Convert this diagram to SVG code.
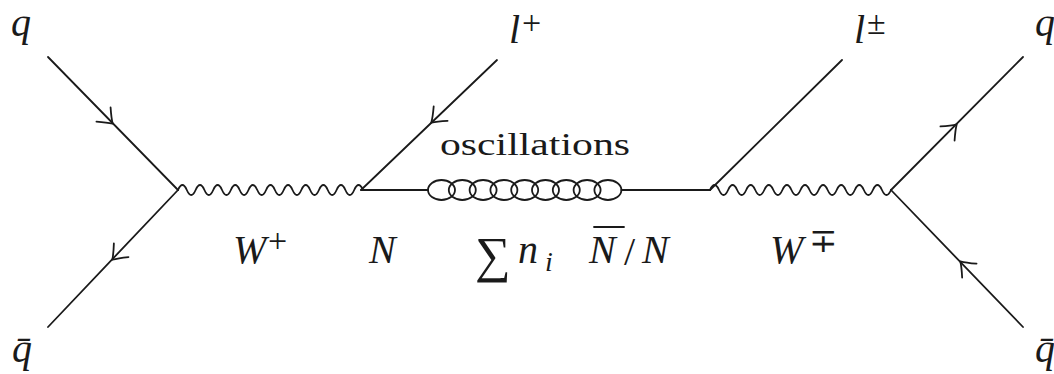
<svg xmlns="http://www.w3.org/2000/svg" xmlns:xlink="http://www.w3.org/1999/xlink" width="1054" height="374" viewBox="0 0 1054 374">
<style>
.ln{fill:none;stroke:#1a1a1a;stroke-width:1.8;stroke-linecap:round;stroke-linejoin:round}
text{font-family:'Liberation Serif','DejaVu Serif',serif;fill:#1a1a1a}
.mi{font-style:italic;font-size:40px}
.rm{font-size:40px}
.sup{font-size:34px}
.sub{font-size:28px;font-style:italic}
.big{font-size:50px}
.txt{font-size:31px}
</style>
<defs>
<path id="arr" class="ln" d="M-12,-10 Q-4,-3 1,0 Q-4,3 -12,10"/>
</defs>
<g id="connectors">
<line class="ln" x1="48" y1="57" x2="178" y2="190"/>
<line class="ln" x1="178" y1="190" x2="48" y2="327"/>
<path class="ln" d="M178,190 q4.4,-10 8.81,0 t8.81,0 t8.81,0 t8.81,0 t8.81,0 t8.81,0 t8.81,0 t8.81,0 t8.81,0 t8.81,0 t8.81,0 t8.81,0 t8.81,0 t8.81,0 t8.81,0 t8.81,0 t8.81,0 t8.81,0 t8.81,0 t8.81,0 t8.81,0"/>
<line class="ln" x1="361" y1="190" x2="497" y2="60"/>
<line class="ln" x1="361" y1="190" x2="428" y2="190"/>
<g class="ln">
<ellipse cx="441.5" cy="190" rx="13.5" ry="10"/>
<ellipse cx="462.3" cy="190" rx="13.5" ry="10"/>
<ellipse cx="483.1" cy="190" rx="13.5" ry="10"/>
<ellipse cx="503.9" cy="190" rx="13.5" ry="10"/>
<ellipse cx="524.7" cy="190" rx="13.5" ry="10"/>
<ellipse cx="545.5" cy="190" rx="13.5" ry="10"/>
<ellipse cx="566.3" cy="190" rx="13.5" ry="10"/>
<ellipse cx="587.1" cy="190" rx="13.5" ry="10"/>
<ellipse cx="607.9" cy="190" rx="13.5" ry="10"/>
</g>
<line class="ln" x1="621.4" y1="190" x2="710" y2="190"/>
<line class="ln" x1="710" y1="190" x2="842" y2="60"/>
<path class="ln" d="M710,190 q4.5,-10 9.05,0 t9.05,0 t9.05,0 t9.05,0 t9.05,0 t9.05,0 t9.05,0 t9.05,0 t9.05,0 t9.05,0 t9.05,0 t9.05,0 t9.05,0 t9.05,0 t9.05,0 t9.05,0 t9.05,0 t9.05,0 t9.05,0 t9.05,0"/>
<line class="ln" x1="891" y1="190" x2="1023" y2="57"/>
<line class="ln" x1="891" y1="190" x2="1023" y2="327"/>
<use xlink:href="#arr" transform="translate(112,123) rotate(45)"/>
<use xlink:href="#arr" transform="translate(113,259) rotate(133)"/>
<use xlink:href="#arr" transform="translate(432,122) rotate(136)"/>
<use xlink:href="#arr" transform="translate(956,125) rotate(-45)"/>
<use xlink:href="#arr" transform="translate(961,262) rotate(226)"/>
</g>
<g id="q-in"><text class="mi" x="11" y="36">q</text></g>
<g id="qbar-in"><text class="mi" x="12" y="362">q̄</text></g>
<g id="l-plus"><text class="mi" x="509" y="43">l</text><text class="sup" x="522" y="34">+</text></g>
<g id="l-pm"><text class="mi" x="854" y="43">l</text><text class="sup" x="867" y="34">±</text></g>
<g id="q-out"><text class="mi" x="1035" y="36">q</text></g>
<g id="qbar-out"><text class="mi" x="1035" y="362">q̄</text></g>
<g id="osc"><text class="txt" x="440" y="155" textLength="190" lengthAdjust="spacingAndGlyphs">oscillations</text></g>
<g id="W-plus"><text class="mi" x="233" y="263">W</text><text class="sup" x="268" y="252">+</text></g>
<g id="N"><text class="mi" x="369" y="263">N</text></g>
<g id="sum"><text class="big" x="475" y="272">∑</text><text class="mi" x="518" y="263">n</text><text class="sub" x="545" y="271">i</text></g>
<g id="Nbar-N"><text class="mi" x="589" y="263">N</text><line class="ln" x1="594" y1="227" x2="624" y2="227"/><text class="rm" x="624" y="265">/</text><text class="mi" x="642" y="263">N</text></g>
<g id="W-mp"><text class="mi" x="770" y="263">W</text><text class="sup" x="809" y="252">∓</text></g>
</svg>
